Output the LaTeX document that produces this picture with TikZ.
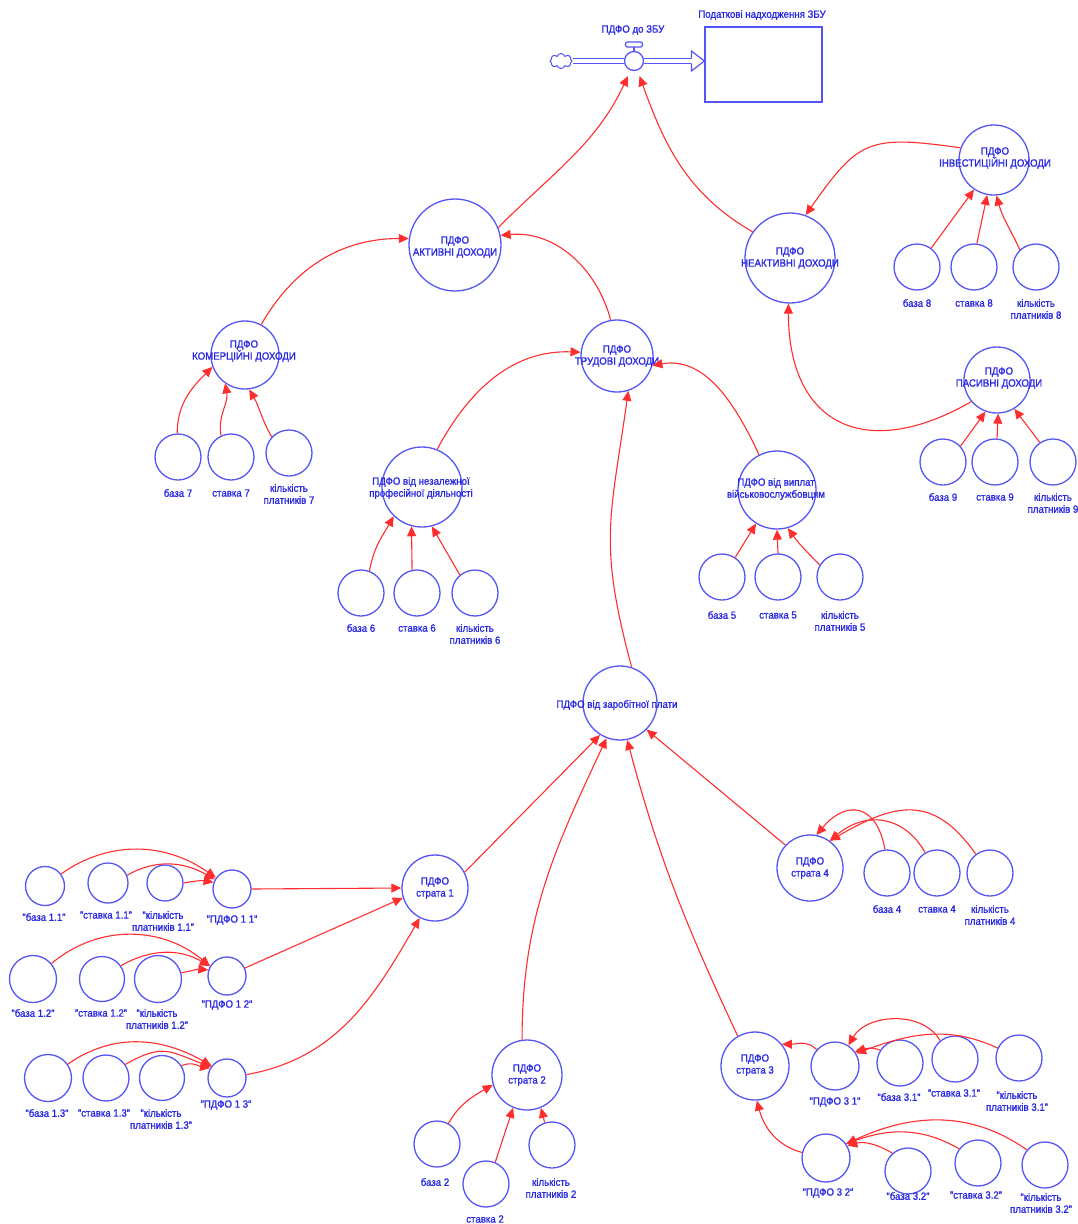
\documentclass[tikz,border=0pt]{standalone}
\usepackage{fontspec}
\setmainfont{Liberation Sans}[FakeStretch=0.92,FakeBold=1.2]
\usetikzlibrary{arrows.meta,shapes.symbols}

\definecolor{ringblue}{RGB}{85,85,245}
\definecolor{inkblue}{RGB}{40,40,225}
\definecolor{linkred}{RGB}{255,45,45}

\tikzset{
  var/.style={circle, draw=ringblue, line width=1.3pt, inner sep=0pt},
  txt/.style={text=inkblue, font=\fontsize{10.5}{12}\selectfont, align=center, inner sep=0pt},
  link/.style={draw=linkred, line width=1.1pt, -{Triangle[length=10pt,width=9pt]}},
  pipe/.style={draw=ringblue, line width=1.2pt, double=white, double distance=3.6pt},
  flowline/.style={draw=ringblue, line width=1.2pt},
}

% circle of given diameter centred at (x, -y)
\newcommand{\pc}[4]{\node[var, minimum size=#4pt] (#1) at (#2pt,-#3pt) {};}
% text block centred at (x, -y)
\newcommand{\tx}[4]{\node[txt] (#1) at (#2pt,-#3pt) {#4};}

\begin{document}
\begin{tikzpicture}[x=1pt,y=1pt]
\useasboundingbox (0,0) rectangle (1077,-1224);

% ---------- flow into the budget stock ----------
\node[cloud, cloud puffs=8, aspect=1.4, draw=ringblue, line width=1pt,
      minimum width=22pt, minimum height=15pt, inner sep=0pt] (src) at (561,-61) {};
\node[circle, draw=ringblue, line width=1.3pt, minimum size=19pt, inner sep=0pt] (valve) at (634,-61) {};
\node[draw=ringblue, line width=1.2pt, minimum width=117pt, minimum height=75pt, inner sep=0pt] (stock) at (763.5,-64.5) {};
\coordinate (flowtip) at (stock.west |- valve.center);
\coordinate (flowbase) at ([xshift=-13pt]flowtip);
\draw[pipe] (src.east) -- (valve.west);
\draw[pipe] (valve.east) -- (flowbase);
\draw[flowline, line join=miter]
  ([yshift=2.4pt]flowbase) -- ([yshift=10pt]flowbase) -- (flowtip)
  -- ([yshift=-10pt]flowbase) -- ([yshift=-2.4pt]flowbase);
\draw[flowline, rounded corners=1.5pt] (625.5,-42) rectangle (642.5,-47);
\draw[flowline] (634,-47) -- (valve.north);
\node[txt] (valvelab) at (633,-30) {ПДФО до ЗБУ};
\node[txt] (stocklab) at (762,-15) {Податкові надходження ЗБУ};

% ---------- aggregate circles ----------
\pc{act}{455}{245}{92}
\pc{neact}{790}{258}{90}
\pc{inv}{994}{160}{70}
\pc{pas}{997}{380}{66}
\pc{kom}{245}{355}{68}
\pc{trud}{617}{356}{72}
\pc{nez}{422}{487}{80}
\pc{vijs}{777}{490}{78}
\pc{zar}{620}{703}{74}
\pc{s1}{435}{888}{66}
\pc{s2}{527}{1075}{70}
\pc{s3}{755}{1066}{68}
\pc{s4}{810}{868}{66}

\tx{actT}{455}{247}{ПДФО\\АКТИВНІ ДОХОДИ}
\tx{neactT}{790}{258}{ПДФО\\НЕАКТИВНІ ДОХОДИ}
\tx{invT}{995}{158}{ПДФО\\ІНВЕСТИЦІЙНІ ДОХОДИ}
\tx{pasT}{999}{378}{ПДФО\\ПАСИВНІ ДОХОДИ}
\tx{komT}{244}{351}{ПДФО\\КОМЕРЦІЙНІ ДОХОДИ}
\tx{trudT}{617}{356}{ПДФО\\ТРУДОВІ ДОХОДИ}
\tx{nezT}{421}{488}{ПДФО від незалежної\\професійної діяльності}
\tx{vijsT}{776}{489}{ПДФО від виплат\\військовослужбовцям}
\tx{zarT}{617}{705}{ПДФО від заробітної плати}
\tx{s1T}{435}{888}{ПДФО\\страта 1}
\tx{s2T}{527}{1075}{ПДФО\\страта 2}
\tx{s3T}{755}{1065}{ПДФО\\страта 3}
\tx{s4T}{810}{868}{ПДФО\\страта 4}

% ---------- input circles ----------
\pc{b8}{917}{267}{46} \pc{r8}{974}{267}{46} \pc{n8}{1036}{267}{46}
\pc{b9}{943}{462}{46} \pc{r9}{995}{462}{46} \pc{n9}{1053}{462}{46}
\pc{b7}{178}{457}{46} \pc{r7}{231}{457}{46} \pc{n7}{289}{453}{46}
\pc{b6}{361}{593}{46} \pc{r6}{417}{593}{46} \pc{n6}{475}{593}{46}
\pc{b5}{722}{577}{46} \pc{r5}{778}{577}{46} \pc{n5}{840}{577}{46}
\pc{b4}{887}{873}{46} \pc{r4}{937}{873}{46} \pc{n4}{990}{873}{46}
\pc{b2}{437}{1144}{46} \pc{r2}{486}{1184}{46} \pc{n2}{552}{1145}{46}
\pc{p31}{835}{1066}{48} \pc{b31}{900}{1063}{46} \pc{r31}{955}{1059}{46} \pc{n31}{1019}{1058}{46}
\pc{p32}{826}{1158}{48} \pc{b32}{908}{1171}{46} \pc{r32}{978}{1163}{46} \pc{n32}{1045}{1165}{46}
\pc{p11}{232}{889}{38} \pc{b11}{45}{886}{39} \pc{r11}{108}{883}{40} \pc{n11}{165}{883}{36}
\pc{p12}{227}{976}{38} \pc{b12}{33}{979}{47} \pc{r12}{102}{979}{45} \pc{n12}{158}{979}{47}
\pc{p13}{227}{1078}{38} \pc{b13}{48}{1078}{47} \pc{r13}{106}{1078}{46} \pc{n13}{162}{1078}{45}

\tx{b8T}{917}{303}{база 8} \tx{r8T}{974}{303}{ставка 8} \tx{n8T}{1036}{309}{кількість\\платників 8}
\tx{b9T}{943}{497}{база 9} \tx{r9T}{995}{497}{ставка 9} \tx{n9T}{1053}{503}{кількість\\платників 9}
\tx{b7T}{178}{493}{база 7} \tx{r7T}{231}{493}{ставка 7} \tx{n7T}{289}{494}{кількість\\платників 7}
\tx{b6T}{361}{628}{база 6} \tx{r6T}{417}{628}{ставка 6} \tx{n6T}{475}{634}{кількість\\платників 6}
\tx{b5T}{722}{615}{база 5} \tx{r5T}{778}{615}{ставка 5} \tx{n5T}{840}{621}{кількість\\платників 5}
\tx{b4T}{887}{909}{база 4} \tx{r4T}{937}{909}{ставка 4} \tx{n4T}{990}{915}{кількість\\платників 4}
\tx{b2T}{435}{1182}{база 2} \tx{r2T}{485}{1219}{ставка 2} \tx{n2T}{551}{1188}{кількість\\платників 2}
\tx{p31T}{835}{1102}{"ПДФО 3 1"} \tx{b31T}{899}{1097}{"база 3.1"} \tx{r31T}{954}{1093}{"ставка 3.1"} \tx{n31T}{1017}{1101}{"кількість\\платників 3.1"}
\tx{p32T}{828}{1193}{"ПДФО 3 2"} \tx{b32T}{908}{1196}{"база 3.2"} \tx{r32T}{976}{1195}{"ставка 3.2"} \tx{n32T}{1041}{1203}{"кількість\\платників 3.2"}
\tx{p11T}{232}{920}{"ПДФО 1 1"} \tx{b11T}{44}{917}{"база 1.1"} \tx{r11T}{106}{915}{"ставка 1.1"} \tx{n11T}{163}{921}{"кількість\\платників 1.1"}
\tx{p12T}{227}{1005}{"ПДФО 1 2"} \tx{b12T}{33}{1013}{"база 1.2"} \tx{r12T}{101}{1013}{"ставка 1.2"} \tx{n12T}{157}{1019}{"кількість\\платників 1.2"}
\tx{p13T}{226}{1105}{"ПДФО 1 3"} \tx{b13T}{47}{1113}{"база 1.3"} \tx{r13T}{104}{1113}{"ставка 1.3"} \tx{n13T}{161}{1119}{"кількість\\платників 1.3"}

% ---------- links: top level ----------
\draw[link, shorten >=6pt] (act.22) to[out=45,in=245] (valve.250);
\draw[link, shorten >=6pt] (neact.145) to[out=150,in=-70] (valve.-70);
\draw[link] (inv.160) to[out=172,in=55,looseness=1.4] (neact.70);
\draw[link] (pas.220) to[out=210,in=-90,looseness=1.5] (neact.-92);
\draw[link] (kom.62) to[out=60,in=180] (act.172);
\draw[link] (trud.100) to[out=105,in=5] (act.12);
\draw[link] (nez.68) to[out=62,in=178] (trud.174);
\draw[link] (vijs.117) to[out=115,in=10] (trud.-15);
\draw[link] (zar.72) to[out=105,in=262,looseness=1.2] (trud.-72);

% ---------- links: inputs of the income groups ----------
\draw[link] (b8.53) -- (inv.236);
\draw[link] (r8.83) -- (inv.259);
\draw[link] (n8.133) to[out=115,in=-75] (inv.-86);
\draw[link] (b9.42) -- (pas.250);
\draw[link] (r9.85) -- (pas.272);
\draw[link] (n9.124) -- (pas.-59);
\draw[link] (b7.92) to[out=90,in=225] (kom.200);
\draw[link] (r7.115) to[out=100,in=-80] (kom.235);
\draw[link] (n7.137) to[out=120,in=-60] (kom.-83);
\draw[link] (b6.69) to[out=80,in=240] (nez.226);
\draw[link] (r6.102) -- (nez.255);
\draw[link] (n6.130) -- (nez.-76);
\draw[link] (b5.56) -- (vijs.238);
\draw[link] (r5.90) -- (vijs.270);
\draw[link] (n5.149) to[out=135,in=-55] (vijs.-74);

% ---------- links: wage strata ----------
\draw[link] (b11.37) to[out=35,in=145] (p11.145);
\draw[link] (r11.22) to[out=30,in=150] (p11.151);
\draw[link] (n11.0) to[out=10,in=170] (p11.160);
\draw[link] (p11.0) -- (s1.180);
\draw[link] (b12.40) to[out=40,in=140] (p12.150);
\draw[link] (r12.35) to[out=30,in=150] (p12.150);
\draw[link] (n12.15) to[out=10,in=175] (p12.162);
\draw[link] (p12.24) -- (s1.197);
\draw[link] (b13.35) to[out=35,in=150] (p13.142);
\draw[link] (r13.35) to[out=30,in=160,looseness=1.3] (p13.145);
\draw[link] (n13.32) to[out=25,in=170] (p13.150);
\draw[link] (p13.10) to[out=10,in=240] (s1.243);
\draw[link] (s1.28) -- (zar.238);

\draw[link] (b2.61) to[out=60,in=210] (s2.196);
\draw[link] (r2.67) -- (s2.247);
\draw[link] (n2.108) -- (s2.-67);
\draw[link] (s2.98) to[out=90,in=245] (zar.249);

\draw[link] (p31.138) to[out=135,in=0] (s3.39);
\draw[link] (b31.147) to[out=160,in=15] (p31.36);
\draw[link] (r31.129) to[out=120,in=60] (p31.57);
\draw[link] (n31.155) to[out=155,in=20] (p31.31);
\draw[link] (p32.167) to[out=165,in=-75] (s3.273);
\draw[link] (b32.131) to[out=150,in=15] (p32.30);
\draw[link] (r32.143) to[out=150,in=20] (p32.35);
\draw[link] (n32.140) to[out=145,in=25] (p32.35);
\draw[link] (s3.120) to[out=115,in=-75] (zar.-79);

\draw[link] (b4.95) to[out=100,in=50,looseness=1.7] (s4.79);
\draw[link] (r4.120) to[out=120,in=40,looseness=1.2] (s4.54);
\draw[link] (n4.127) to[out=125,in=30,looseness=1.3] (s4.54);
\draw[link] (s4.137) -- (zar.-45);
\end{tikzpicture}
\end{document}
